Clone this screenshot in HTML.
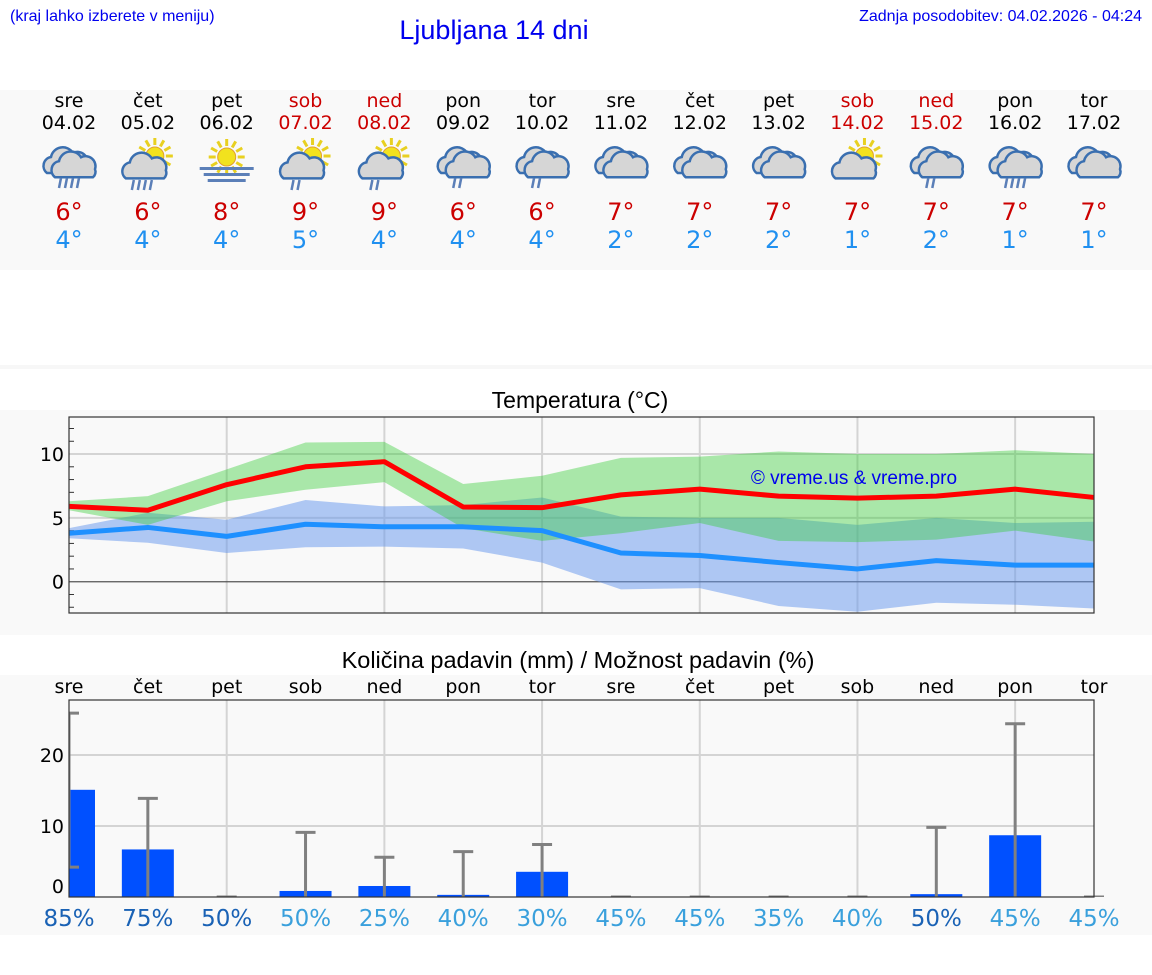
<!DOCTYPE html>
<html><head><meta charset="utf-8"><style>
body{margin:0;background:#fff;font-family:"Liberation Sans",sans-serif}
svg{display:block}
text{font-family:"DejaVu Sans","Liberation Sans",sans-serif}
</style></head><body>
<svg id="s" width="1152" height="975" xmlns="http://www.w3.org/2000/svg">
<rect x="0" y="90" width="1152" height="180" fill="#f9f9f9"/>
<rect x="0" y="365" width="1152" height="4" fill="#f7f7f7"/>
<rect x="0" y="410" width="1152" height="225" fill="#f9f9f9"/>
<rect x="0" y="675" width="1152" height="260" fill="#f9f9f9"/>
<text x="10" y="21" font-size="16" fill="#0000ee" style="font-family:'Liberation Sans',sans-serif">(kraj lahko izberete v meniju)</text>
<text x="494" y="39" font-size="27" fill="#0000ee" text-anchor="middle" style="font-family:'Liberation Sans',sans-serif">Ljubljana 14 dni</text>
<text x="1142" y="21" font-size="16" fill="#0000ee" text-anchor="end" style="font-family:'Liberation Sans',sans-serif">Zadnja posodobitev: 04.02.2026 - 04:24</text>
<text x="580" y="408" font-size="23" fill="#000" text-anchor="middle" style="font-family:'Liberation Sans',sans-serif">Temperatura (°C)</text>
<text x="578" y="668" font-size="23.5" fill="#000" text-anchor="middle" style="font-family:'Liberation Sans',sans-serif">Količina padavin (mm) / Možnost padavin (%)</text>
<g id="days"></g>
<g id="temp"></g>
<g id="prec"></g>
</svg>
<script>
const dayNames=["sre","čet","pet","sob","ned","pon","tor","sre","čet","pet","sob","ned","pon","tor"];
const dates=["04.02","05.02","06.02","07.02","08.02","09.02","10.02","11.02","12.02","13.02","14.02","15.02","16.02","17.02"];
const maxLabels=[6,6,8,9,9,6,6,7,7,7,7,7,7,7];
const minLabels=[4,4,4,5,4,4,4,2,2,2,1,2,1,1];
const icons=["rain","sunrain","fog","sunlight","sunlight","light","light","cloud","cloud","cloud","sun","light","rain","cloud"];
const tMax=[5.9,5.6,7.6,9.0,9.4,5.85,5.8,6.8,7.25,6.7,6.55,6.7,7.25,6.6];
const tMaxHi=[6.3,6.7,8.8,10.9,10.95,7.65,8.3,9.7,9.8,10.2,10.0,10.0,10.3,10.0];
const tMaxLo=[5.6,4.45,6.3,7.2,7.8,4.2,3.2,3.8,4.6,3.2,3.1,3.3,4.0,3.15];
const tMin=[3.8,4.25,3.55,4.5,4.3,4.3,4.0,2.25,2.05,1.5,1.0,1.65,1.3,1.3];
const tMinHi=[4.2,5.4,4.85,6.4,5.9,6.0,6.6,5.1,5.0,5.0,4.45,5.0,4.6,4.7];
const tMinLo=[3.4,3.05,2.25,2.7,2.75,2.6,1.5,-0.6,-0.5,-1.9,-2.35,-1.65,-1.8,-2.1];
const tTicks=[0,5,10];
const precip=[15.1,6.7,0,0.85,1.55,0.3,3.55,0,0,0,0,0.4,8.7,0];
const precHi=[25.9,13.9,0,9.1,5.6,6.4,7.4,0,0,0,0,9.8,24.4,0];
const precLo=[4.2,0,0,0,0,0,0,0,0,0,0,0,0,0];
const chance=[85,75,50,50,25,40,30,45,45,35,40,50,45,45];
const pTicks=[0,10,20];
const NS="http://www.w3.org/2000/svg";
function mk(p,t,a){const e=document.createElementNS(NS,t);for(const k in a)e.setAttribute(k,a[k]);p.appendChild(e);return e;}
const X0=69,X1=1094;
const xs=i=>X0+i*(X1-X0)/13;
const weekend=i=>dayNames[i]==="sob"||dayNames[i]==="ned";
const D=document.getElementById('days');
function cloud(g,cx,cy,s){
  const c="#3a6fb0",f="#d6d6d6";
  mk(g,'path',{d:`M${cx-20*s} ${cy+8*s} a9 9 0 0 1 4 -16 a12 12 0 0 1 22 -4 a10 10 0 0 1 14 12 a7 7 0 0 1 -2 8 z`,fill:f,stroke:c,'stroke-width':2.5});
}
function sun(g,cx,cy){
  for(let k=0;k<12;k++){const a=k*Math.PI/6;mk(g,'line',{x1:cx+Math.cos(a)*11,y1:cy+Math.sin(a)*11,x2:cx+Math.cos(a)*18,y2:cy+Math.sin(a)*18,stroke:"#e8d020",'stroke-width':3});}
  mk(g,'circle',{cx:cx,cy:cy,r:9,fill:"#f2e21e",stroke:"#e0a030",'stroke-width':1});
}
function rain(g,cx,cy,n){
  for(let k=0;k<n;k++){const x=cx-9+k*6;mk(g,'line',{x1:x+1,y1:cy,x2:x-1,y2:cy+10,stroke:"#5b7fb8",'stroke-width':2.5});}
}
for(let i=0;i<14;i++){
  const x=xs(i),col=weekend(i)?"#cc0000":"#000";
  const g=mk(D,'g',{});
  
  
  const t1=mk(g,'text',{x:x,y:107,'font-size':19,fill:col,'text-anchor':'middle'});t1.textContent=dayNames[i];
  
  
  const t2=mk(g,'text',{x:x,y:129,'font-size':19,fill:col,'text-anchor':'middle'});t2.textContent=dates[i];
  
  
  const ic=mk(g,'g',{});
  
  
  const k=icons[i];
  if(k==="fog"){sun(ic,x,157);[168,174,180].forEach((yy,j)=>mk(ic,'rect',{x:x-27+j*4,y:yy-1,width:54-j*8,height:3,fill:"#5b7fb8"}));}
  else if(k==="sunrain"||k==="sunlight"||k==="sun"){sun(ic,x+7,156);cloud(ic,x-6,172,0.8);if(k==="sunrain")rain(ic,x-6,180,4);if(k==="sunlight")rain(ic,x-4,180,2);}
  else {cloud(ic,x-2,165,1);cloud(ic,x+4,170,0.9);if(k==="rain")rain(ic,x,178,4);if(k==="light")rain(ic,x,178,2);}
  const t3=mk(g,'text',{x:x,y:220,'font-size':24,fill:"#cc0000",'text-anchor':'middle'});t3.textContent=maxLabels[i]+"°";
  
  
  const t4=mk(g,'text',{x:x,y:248,'font-size':24,fill:"#2090f0",'text-anchor':'middle'});t4.textContent=minLabels[i]+"°";
  
  
}
const T=document.getElementById('temp');
const TY0=417,TY1=613,TMIN=-2.45,TMAX=12.9;
const ty=v=>TY1-(v-TMIN)/(TMAX-TMIN)*(TY1-TY0);
const tbg=mk(T,'rect',{x:X0,y:TY0,width:X1-X0,height:TY1-TY0,fill:"#f9f9f9"});


for(let i=2;i<14;i+=2){mk(T,'line',{x1:xs(i),x2:xs(i),y1:TY0,y2:TY1,stroke:"#d4d4d4",'stroke-width':2});}
tTicks.forEach(v=>{
  mk(T,'line',{x1:X0,x2:X1,y1:ty(v),y2:ty(v),stroke:v===0?"#555":"#d4d4d4",'stroke-width':v===0?1.2:2});
  const l=mk(T,'text',{x:X0-5,y:ty(v)+7,'font-size':19,'text-anchor':'end',fill:"#000"});l.textContent=v;
  
  
});
for(let v=-2;v<=12;v++){if(v%5)mk(T,'line',{x1:X0,x2:X0+5,y1:ty(v),y2:ty(v),stroke:"#333",'stroke-width':1});}
function band(hi,lo,fill,op,name){
  let d="M"+hi.map((v,i)=>xs(i)+" "+ty(v)).join(" L")+" L"+lo.map((v,i)=>xs(i)+" "+ty(v)).reverse().join(" L")+" Z";
  const p=mk(T,'path',{d:d,fill:fill,'fill-opacity':op});
  
  
}
band(tMinHi,tMinLo,"#6495ED",0.5,'min-temp-range');
band(tMaxHi,tMaxLo,"#32CD32",0.4,'max-temp-range');
const wm=mk(T,'text',{x:854,y:484,'font-size':19,fill:"#0000ee",'text-anchor':'middle',style:"font-family:'Liberation Sans',sans-serif"});wm.textContent="© vreme.us & vreme.pro";


function line(vals,col,name){
  const p=mk(T,'polyline',{points:vals.map((v,i)=>xs(i)+","+ty(v)).join(" "),fill:"none",stroke:col,'stroke-width':5,'stroke-linejoin':'round'});
  
  
}
line(tMin,"#1e90ff",'min-temp-line');
line(tMax,"#ff0000",'max-temp-line');
mk(T,'rect',{x:X0,y:TY0,width:X1-X0,height:TY1-TY0,fill:"none",stroke:"#333",'stroke-width':1.2});
const P=document.getElementById('prec');
const PY0=700,PY1=897,PMAX=27.75;
const py=v=>PY1-v/PMAX*(PY1-PY0);
const pbg=mk(P,'rect',{x:X0,y:PY0,width:X1-X0,height:PY1-PY0,fill:"#f9f9f9"});


for(let i=2;i<14;i+=2){mk(P,'line',{x1:xs(i),x2:xs(i),y1:PY0,y2:PY1,stroke:"#d4d4d4",'stroke-width':2});}
pTicks.forEach(v=>{
  if(v>0)mk(P,'line',{x1:X0,x2:X1,y1:py(v),y2:py(v),stroke:"#d4d4d4",'stroke-width':2});
  const l=mk(P,'text',{x:X0-5,y:py(v)+(v===0?-4:7),'font-size':19,'text-anchor':'end',fill:"#000"});l.textContent=v;
  
  
});
const clip=mk(P,'clipPath',{id:'pc'});mk(clip,'rect',{x:X0,y:PY0-20,width:X1-X0+20,height:PY1-PY0+20});
const bars=mk(P,'g',{'clip-path':'url(#pc)'});
for(let i=0;i<14;i++){
  const x=xs(i);
  const dn=mk(P,'text',{x:x,y:693,'font-size':19,'text-anchor':'middle',fill:"#000"});dn.textContent=dayNames[i];
  
  
  if(precip[i]>0){
    const b=mk(bars,'rect',{x:x-26,y:py(precip[i]),width:52,height:PY1-py(precip[i]),fill:"#0050ff"});
    
    
  }
  const eb=mk(bars,'g',{stroke:"#808080",'stroke-width':3});
  
  
  mk(eb,'line',{x1:x,x2:x,y1:py(precLo[i]),y2:py(precHi[i])});
  mk(eb,'line',{x1:x-10,x2:x+10,y1:py(precHi[i]),y2:py(precHi[i])});
  if(precLo[i]>0)mk(eb,'line',{x1:x-10,x2:x+10,y1:py(precLo[i]),y2:py(precLo[i])});
  const c=mk(P,'text',{x:x,y:926,'font-size':23,'text-anchor':'middle',fill:chance[i]>=50&&(i<3||i===11)?"#1a62b5":"#3aa0dc"});c.textContent=chance[i]+"%";
  
  
}
mk(P,'rect',{x:X0,y:PY0,width:X1-X0,height:PY1-PY0,fill:"none",stroke:"#333",'stroke-width':1.2});
</script>
</body></html>
